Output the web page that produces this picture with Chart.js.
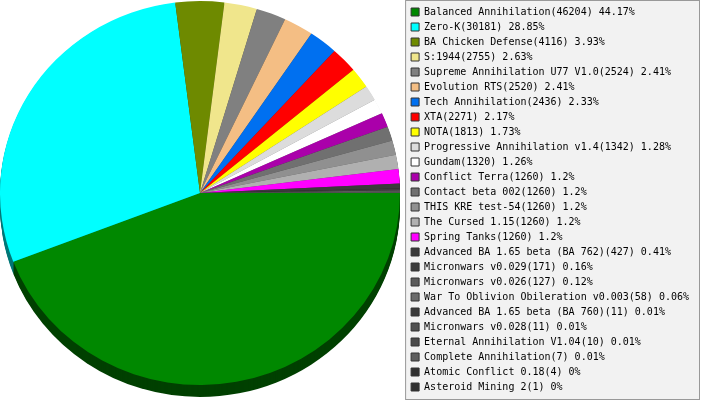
<!DOCTYPE html>
<html>
<head>
<meta charset="utf-8">
<script src="https://cdn.jsdelivr.net/npm/chart.js@4/dist/chart.umd.min.js"></script>
<style>
  html, body { margin: 0; padding: 0; background: #fff; }
  #wrap { width: 701px; height: 400px; }
</style>
</head>
<body>
<div id="wrap"><canvas id="games" width="701" height="400"></canvas></div>
<script>
// === DADOS ===
const games = [
  'Balanced Annihilation', 'Zero-K', 'BA Chicken Defense', 'S:1944',
  'Supreme Annihilation U77 V1.0', 'Evolution RTS', 'Tech Annihilation', 'XTA',
  'NOTA', 'Progressive Annihilation v1.4', 'Gundam', 'Conflict Terra',
  'Contact beta 002', 'THIS KRE test-54', 'The Cursed 1.15', 'Spring Tanks',
  'Advanced BA 1.65 beta (BA 762)', 'Micronwars v0.029', 'Micronwars v0.026',
  'War To Oblivion Obileration v0.003', 'Advanced BA 1.65 beta (BA 760)',
  'Micronwars v0.028', 'Eternal Annihilation V1.04', 'Complete Annihilation',
  'Atomic Conflict 0.18', 'Asteroid Mining 2'
];
const counts = [46204, 30181, 4116, 2755, 2524, 2520, 2436, 2271, 1813, 1342, 1320, 1260,
  1260, 1260, 1260, 1260, 427, 171, 127, 58, 11, 11, 10, 7, 4, 1];
const shares = ['44.17', '28.85', '3.93', '2.63', '2.41', '2.41', '2.33', '2.17', '1.73', '1.28',
  '1.26', '1.2', '1.2', '1.2', '1.2', '1.2', '0.41', '0.16', '0.12', '0.06', '0.01', '0.01',
  '0.01', '0.01', '0', '0'];
const colors = ['#008800', '#00ffff', '#6e8a00', '#f0e68c', '#808080', '#f4be84', '#0070f0',
  '#ff0000', '#ffff00', '#dcdcdc', '#ffffff', '#aa00aa', '#707070', '#909090', '#b0b0b0',
  '#ff00ff', '#3a3a3a', '#3c3c3c', '#5a5a5a', '#6a6a6a', '#3a3a3a', '#505050', '#4a4a4a',
  '#5e5e5e', '#303030', '#303030'];

// === EFEITO 3D (elipse + lateral escura) ===
const PIE = { cx: 200, cy: 193, rx: 200, ry: 192, depth: 12 };

function darken(hex, f) {
  const n = parseInt(hex.slice(1), 16);
  const r = Math.round(((n >> 16) & 255) * f), g = Math.round(((n >> 8) & 255) * f), b = Math.round((n & 255) * f);
  return `rgb(${r},${g},${b})`;
}

const pie3d = {
  id: 'pie3d',
  beforeDraw(chart) {
    // caixa da legenda
    const ctx = chart.ctx, lg = chart.legend;
    ctx.save();
    ctx.fillStyle = '#f2f2f2';
    ctx.strokeStyle = '#999999';
    ctx.lineWidth = 1;
    ctx.fillRect(lg.left - 0.5, 0.5, chart.width - lg.left - 1, chart.height - 1);
    ctx.strokeRect(lg.left - 0.5, 0.5, chart.width - lg.left - 1, chart.height - 1);
    ctx.restore();
  },
  beforeDatasetsDraw(chart) {
    const arcs = chart.getDatasetMeta(0).data;
    const ctx = chart.ctx, a0 = arcs[0];
    const R = a0.outerRadius;
    ctx.save();
    ctx.translate(PIE.cx, PIE.cy);
    ctx.scale(PIE.rx / R, PIE.ry / R);
    ctx.translate(-a0.x, -a0.y);
    const step = R / PIE.ry;
    for (let d = PIE.depth; d >= 1; d--) {
      arcs.forEach((arc, i) => {
        ctx.beginPath();
        ctx.moveTo(arc.x, arc.y + d * step);
        ctx.arc(arc.x, arc.y + d * step, R, arc.startAngle, arc.endAngle);
        ctx.closePath();
        ctx.fillStyle = darken(colors[i], 0.47);
        ctx.fill();
      });
    }
  },
  afterDatasetsDraw(chart) {
    chart.ctx.restore();
  }
};

new Chart(document.getElementById('games'), {
  type: 'pie',
  data: {
    labels: games,
    datasets: [{ data: counts, backgroundColor: colors, borderWidth: 0, clip: false }]
  },
  options: {
    responsive: false,
    devicePixelRatio: 1,
    animation: false,
    rotation: 90,
    layout: { padding: { top: 2, right: 2, bottom: 0, left: 0 } },
    plugins: {
      tooltip: { enabled: false },
      legend: {
        position: 'right',
        align: 'start',
        labels: {
          color: '#111',
          font: { family: 'DejaVu Sans Mono', size: 10 },
          boxWidth: 8,
          boxHeight: 8,
          padding: 5,
          generateLabels: () => games.map((g, i) => ({
            text: `${g}(${counts[i]}) ${shares[i]}%`,
            fillStyle: colors[i],
            strokeStyle: '#333',
            lineWidth: 1,
            hidden: false,
            index: i
          }))
        }
      }
    }
  },
  plugins: [pie3d]
});
</script>
</body>
</html>
